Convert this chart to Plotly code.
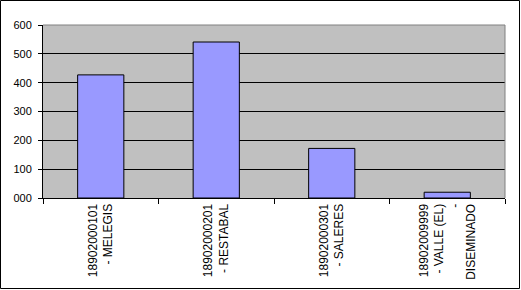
import plotly.graph_objects as go

categories = ["18902000101 - MELEGIS", "18902000201 - RESTABAL",
              "18902000301 - SALERES", "18902009999 - VALLE (EL) - DISEMINADO"]
tick_labels = ["18902000101<br>- MELEGIS", "18902000201<br>- RESTABAL",
               "18902000301<br>- SALERES", "18902009999<br>- VALLE (EL)<br>-<br>DISEMINADO"]
values = [427, 541, 172, 20]
y_ticks = [0, 100, 200, 300, 400, 500, 600]
y_tick_labels = ["000", "100", "200", "300", "400", "500", "600"]

L, R, T, B = 43, 16, 25, 92
W, H = 521, 290
pw, ph = W - L - R, H - T - B

fig = go.Figure(go.Bar(
    x=categories, y=values, width=0.4,
    marker=dict(color="#9999FF", line=dict(color="black", width=1)),
))

fig.update_layout(
    width=W, height=H, margin=dict(l=L, r=R, t=T, b=B, autoexpand=False),
    paper_bgcolor="white", plot_bgcolor="#C0C0C0",
    font=dict(family="Liberation Sans, Arial, sans-serif", size=11, color="black"),
    showlegend=False,
    xaxis=dict(
        type="category", range=[-0.5, 3.5], automargin=False,
        tickmode="array", tickvals=categories, ticktext=tick_labels,
        tickangle=-90, ticks="outside", tickson="boundaries", ticklen=5,
        tickfont=dict(size=12),
        tickcolor="black", showline=True, linecolor="black", linewidth=1,
        showgrid=False, zeroline=False,
    ),
    yaxis=dict(
        range=[0, 600], tickmode="array", tickvals=y_ticks, ticktext=y_tick_labels,
        automargin=False,
        ticks="outside", ticklen=4, tickcolor="black",
        showline=True, linecolor="black", linewidth=1,
        showgrid=True, gridcolor="black", gridwidth=1, zeroline=False,
        ticklabelstandoff=4,
    ),
    shapes=[
        dict(type="line", xref="paper", yref="paper", x0=0, x1=1, y0=1, y1=1,
             line=dict(color="#808080", width=1), layer="above"),
        dict(type="line", xref="paper", yref="paper", x0=1, x1=1, y0=0, y1=1,
             line=dict(color="#808080", width=1), layer="above"),
        dict(type="rect", xref="paper", yref="paper",
             x0=(0.5 - L) / pw, x1=(519.5 - L) / pw,
             y0=(ph + T - 288.5) / ph, y1=(ph + T - 0.5) / ph,
             line=dict(color="black", width=1), fillcolor="rgba(0,0,0,0)", layer="above"),
    ],
)

fig.write_html("out.html")
